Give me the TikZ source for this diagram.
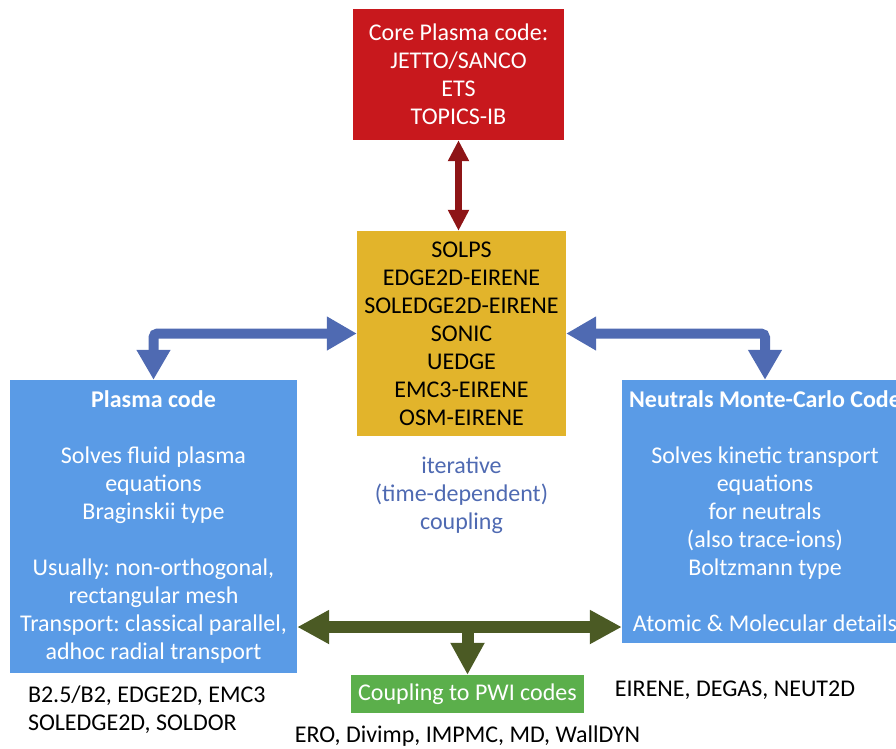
\documentclass[tikz,border=0pt]{standalone}
\usepackage{fontspec}
\setmainfont{Carlito}
\usepackage{xcolor}
\usetikzlibrary{arrows.meta,positioning}
\frenchspacing

\definecolor{corered}{HTML}{C8181D}
\definecolor{linkred}{HTML}{8E1517}
\definecolor{solgold}{HTML}{E2B42B}
\definecolor{codeblue}{HTML}{5A9BE6}
\definecolor{linkblue}{HTML}{4F6AB2}
\definecolor{pwigreen}{HTML}{5BAF4B}
\definecolor{linkgreen}{HTML}{4B5A24}

\begin{document}
\begin{tikzpicture}[
    x=1pt, y=-1pt,
    box/.style={inner sep=0pt, align=center, font=\fontsize{24}{28}\selectfont},
    codelist/.style={inner sep=0pt, font=\fontsize{24}{28}\selectfont},
    redlink/.style={linkred, line width=7pt, {Triangle[width=20pt,length=21pt]}-{Triangle[width=20pt,length=21pt]}},
    bluelink/.style={linkblue, line width=10pt, rounded corners=4pt, {Triangle[width=32pt,length=30pt]}-{Triangle[width=32pt,length=30pt]}},
    greenlink/.style={linkgreen, line width=12pt}
]
\useasboundingbox (0,0) rectangle (896,748);
\clip (0,0) rectangle (896,748);

\node[box, fill=corered, text=white, minimum width=211pt, minimum height=131pt] (core) at (458.5,74.5)
    {Core Plasma code:\\JETTO/SANCO\\ETS\\TOPICS-IB};
\node[box, fill=solgold, text=black, minimum width=209pt, minimum height=205pt] (solps) at (461.5,333.5)
    {SOLPS\\EDGE2D-EIRENE\\SOLEDGE2D-EIRENE\\SONIC\\UEDGE\\EMC3-EIRENE\\OSM-EIRENE};
\node[box, fill=codeblue, text=white, minimum width=287pt, minimum height=293pt] (plasma) at (153.5,526.5)
    {\textbf{Plasma code}\\[28pt]Solves fluid plasma\\equations\\Braginskii type\\[28pt]Usually: non-orthogonal,\\rectangular mesh\\Transport: classical parallel,\\adhoc radial transport};
\node[box, fill=codeblue, text=white, minimum width=286pt, minimum height=263pt] (neutrals) at (765,511.5)
    {\textbf{Neutrals Monte-Carlo Code}\\[28pt]Solves kinetic transport\\equations\\for neutrals\\(also trace-ions)\\Boltzmann type\\[28pt]Atomic \& Molecular details};
\node[box, fill=pwigreen, text=white, minimum width=233pt, minimum height=38pt] (pwi) at (467.5,694)
    {Coupling to PWI codes};

\node[box, text=linkblue, below=20pt of solps] (iter) {iterative\\(time-dependent)\\coupling};
\node[codelist, align=left, below right=12pt and 18pt of plasma.south west] (plasmalist)
    {B2.5/B2, EDGE2D, EMC3\\SOLEDGE2D, SOLDOR};
\node[codelist] (neutlist) at (735,690) {EIRENE, DEGAS, NEUT2D};
\node[codelist, below=12pt of pwi] (pwilist) {ERO, Divimp, IMPMC, MD, WallDYN};

% couplings
\draw[redlink] (core.south) -- (core.south |- solps.north);
\draw[bluelink] (plasma.north) |- (solps.west);
\draw[bluelink] (neutrals.north) |- (solps.east);

\coordinate (bus) at (pwi.north |- 0,627);
\draw[greenlink, {Triangle[width=32pt,length=32pt]}-{Triangle[width=32pt,length=32pt]}] (bus -| plasma.east) -- (bus -| neutrals.west);
\draw[greenlink, -{Triangle[width=32pt,length=32pt]}] (bus) -- (pwi.north);

\end{tikzpicture}
\end{document}
